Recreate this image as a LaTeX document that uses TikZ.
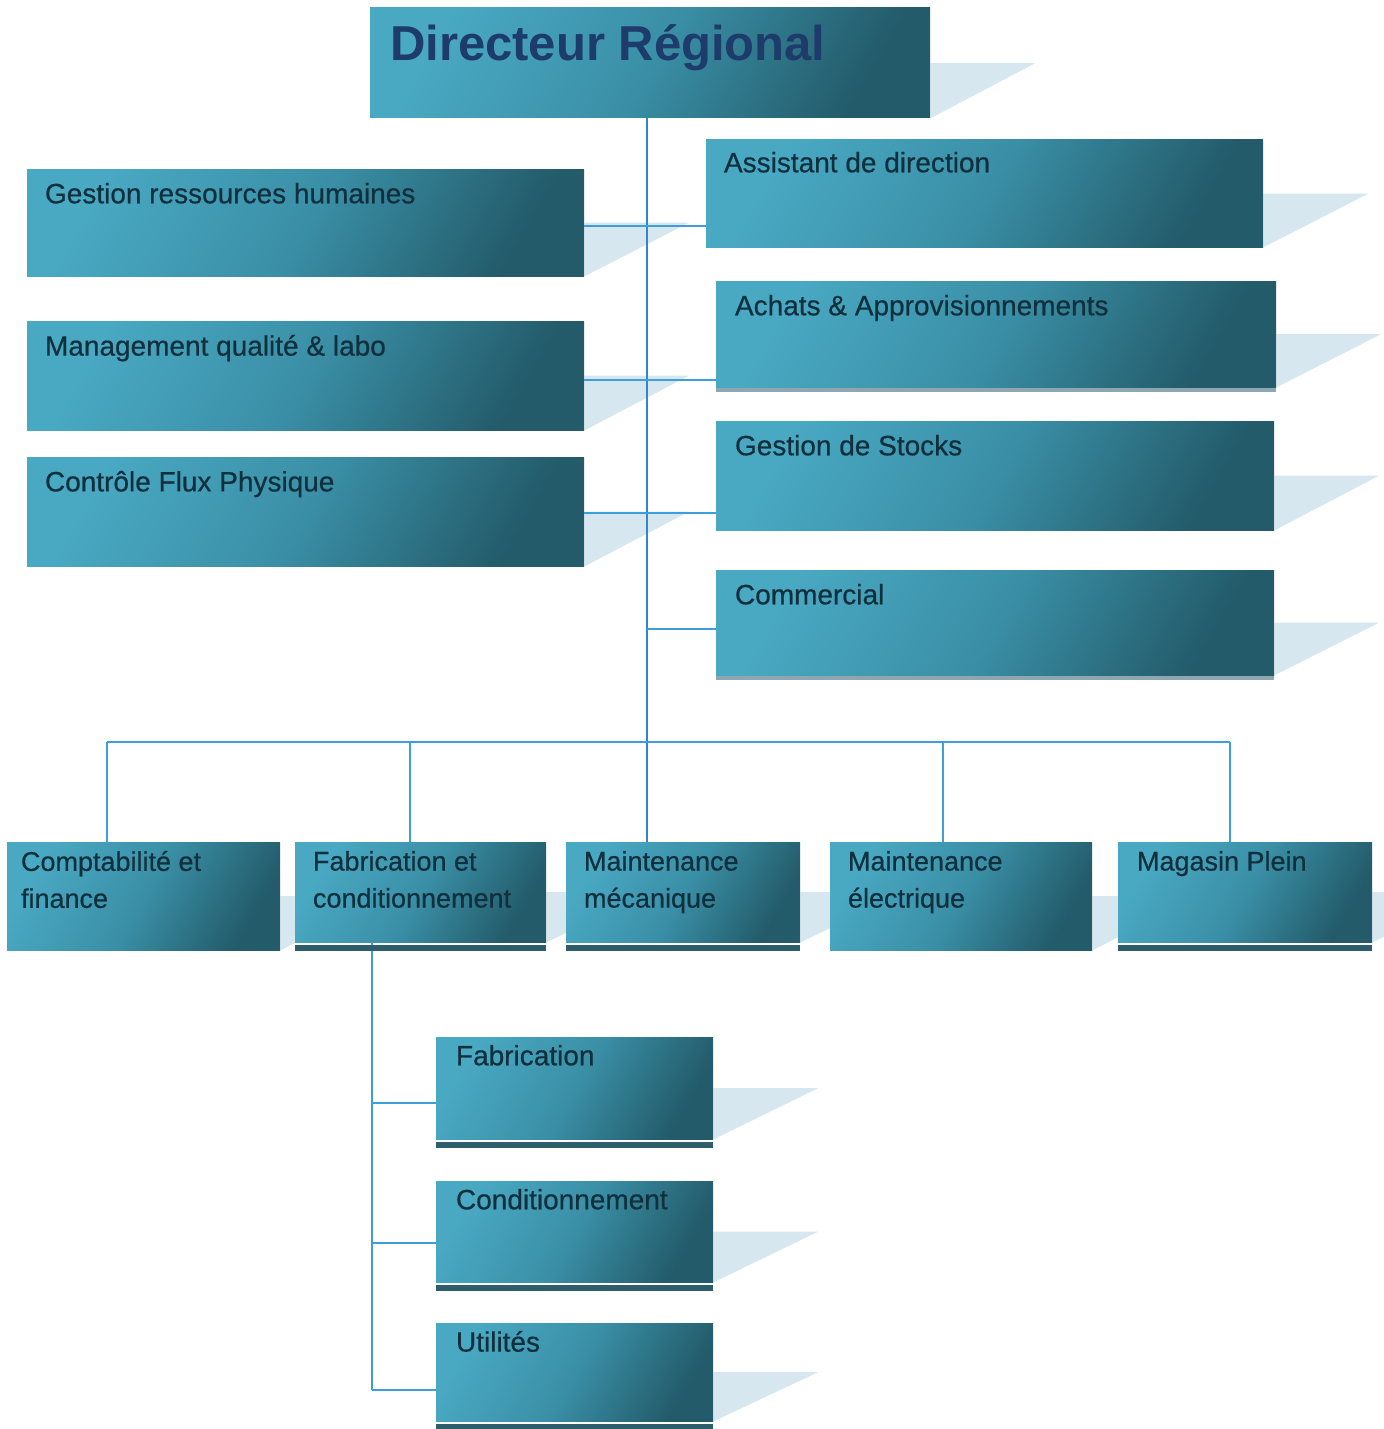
\documentclass[tikz,border=0pt]{standalone}
\usepackage{fontspec}
\setmainfont{Liberation Sans}
\newfontfamily\heavyfont[FakeBold=0.6]{Liberation Sans}
\usepackage{tikz}
\usetikzlibrary{positioning,fit,backgrounds}
\definecolor{tealtop}{HTML}{49A8C2}
\definecolor{tealmid}{HTML}{3A8FA6}
\definecolor{tealbot}{HTML}{235B6A}
\definecolor{inkdark}{HTML}{11303E}
\definecolor{titleblue}{HTML}{1D3B6B}
\definecolor{linkblue}{HTML}{3A9FDB}
\definecolor{trunkblue}{HTML}{2F86C8}
\definecolor{shadowblue}{HTML}{D7E7EF}
\definecolor{barteal}{HTML}{2E5E6C}
\definecolor{bargrey}{HTML}{8DA6AF}
\tikzset{
  orgbox/.style={
    rectangle, inner sep=0pt, draw=none,
    top color=tealtop, bottom color=tealbot, middle color=tealmid,
    shading angle=60
  },
  boxtext/.style={
    font=\heavyfont\fontsize{14}{19}\selectfont, text=inkdark,
    inner sep=0pt, align=left
  },
  smalltext/.style={
    boxtext, font=\heavyfont\fontsize{13.5}{18.5}\selectfont
  },
  titletext/.style={
    boxtext, font=\fontsize{24.5}{29}\selectfont\bfseries, text=titleblue
  },
  link/.style={draw=linkblue, line width=1.1pt},
  trunk/.style={link, draw=trunkblue, line width=1pt},
  boxshadow/.style={fill=shadowblue},
}

\begin{document}
\begin{tikzpicture}[x=0.5pt, y=-0.5pt]
  \useasboundingbox (0,0) rectangle (1383,1429);

  % Boxes
  \node[orgbox, fit={(370,8) (930,118)}] (dir) {};
  \node[orgbox, fit={(27,169) (584,276)}] (grh) {};
  \node[orgbox, fit={(27,321) (584,430)}] (mql) {};
  \node[orgbox, fit={(27,457) (584,566)}] (cfp) {};
  \node[orgbox, fit={(706,140) (1263,247)}] (assist) {};
  \node[orgbox, fit={(716,281) (1276,387)}] (achats) {};
  \node[orgbox, fit={(716,421) (1274,530)}] (stocks) {};
  \node[orgbox, fit={(716,570) (1274,675)}] (comm) {};
  \node[orgbox, fit={(7,842) (280,950)}] (compta) {};
  \node[orgbox, fit={(295,842) (546,942)}] (fabcond) {};
  \node[orgbox, fit={(566,842) (800,942)}] (mmeca) {};
  \node[orgbox, fit={(830,842) (1092,950)}] (melec) {};
  \node[orgbox, fit={(1118,842) (1372,942)}] (magasin) {};
  \node[orgbox, fit={(436,1037) (713,1139)}] (fab) {};
  \node[orgbox, fit={(436,1181) (713,1282)}] (cond) {};
  \node[orgbox, fit={(436,1323) (713,1421)}] (util) {};

  % Texts
  \node[titletext, below right=8.5pt and 10pt of dir.north west] (dirtxt) {Directeur Régional};
  \node[boxtext, below right=7pt and 9pt of grh.north west] (grhtxt) {Gestion ressources humaines};
  \node[boxtext, below right=7pt and 9pt of mql.north west] (mqltxt) {Management qualité \& labo};
  \node[boxtext, below right=7pt and 9pt of cfp.north west] (cfptxt) {Contrôle Flux Physique};
  \node[boxtext, below right=6pt and 9pt of assist.north west] (assisttxt) {Assistant de direction};
  \node[boxtext, below right=7pt and 9.5pt of achats.north west] (achatstxt) {Achats \& Approvisionnements};
  \node[boxtext, below right=7pt and 9.5pt of stocks.north west] (stockstxt) {Gestion de Stocks};
  \node[boxtext, below right=7pt and 9.5pt of comm.north west] (commtxt) {Commercial};
  \node[smalltext, below right=4.5pt and 7pt of compta.north west] (comptatxt) {Comptabilité et\\finance};
  \node[smalltext, below right=4.5pt and 9pt of fabcond.north west] (fabcondtxt) {Fabrication et\\conditionnement};
  \node[smalltext, below right=4.5pt and 9pt of mmeca.north west] (mmecatxt) {Maintenance\\mécanique};
  \node[smalltext, below right=4.5pt and 9pt of melec.north west] (melectxt) {Maintenance\\électrique};
  \node[smalltext, below right=4.5pt and 9.5pt of magasin.north west] (magasintxt) {Magasin Plein};
  \node[boxtext, below right=4pt and 10pt of fab.north west] (fabtxt) {Fabrication};
  \node[boxtext, below right=4pt and 10pt of cond.north west] (condtxt) {Conditionnement};
  \node[boxtext, below right=4pt and 10pt of util.north west] (utiltxt) {Utilités};

  % Shadows
  \begin{scope}[on background layer]
    \foreach \n in {dir,grh,mql,cfp,assist,achats,stocks,comm,
                    compta,fabcond,mmeca,melec,magasin,fab,cond,util}
      \path[boxshadow] (\n.east) -- ++(105,0) -- (\n.south east) -- cycle;
  \end{scope}

  % Links
  \coordinate (trunk) at (647,742);
  \coordinate (sub) at (372,1390);
  \draw[trunk] (dir.south -| trunk) -- (mmeca.north -| trunk);
  \draw[link] (107,742) -- (1230,742);
  \foreach \n/\x in {compta/107,fabcond/410,melec/943,magasin/1230}
    \draw[link] (\x,742) -- (\n.north -| \x,742);
  \draw[link] (grh.east |- 0,226) -- (assist.west |- 0,226);
  \draw[link] (mql.east |- 0,380) -- (achats.west |- 0,380);
  \draw[link] (cfp.east |- 0,513) -- (stocks.west |- 0,513);
  \draw[link] (trunk |- 0,629) -- (comm.west |- 0,629);
  \draw[link] (fabcond.south -| sub) -- (sub);
  \draw[link] (sub |- 0,1103) -- (fab.west |- 0,1103);
  \draw[link] (sub |- 0,1243) -- (cond.west |- 0,1243);
  \draw[link] (sub) -- (util.west |- sub);

  % Bars under boxes
  \foreach \n in {fabcond,mmeca,magasin,fab,cond,util}
    \fill[barteal] ([yshift=-1.5pt]\n.south west) rectangle ([yshift=-4.5pt]\n.south east);
  \foreach \n in {achats,comm}
    \fill[bargrey] ([yshift=-0.5pt]\n.south west) rectangle ([yshift=-2.5pt]\n.south east);
\end{tikzpicture}
\end{document}
